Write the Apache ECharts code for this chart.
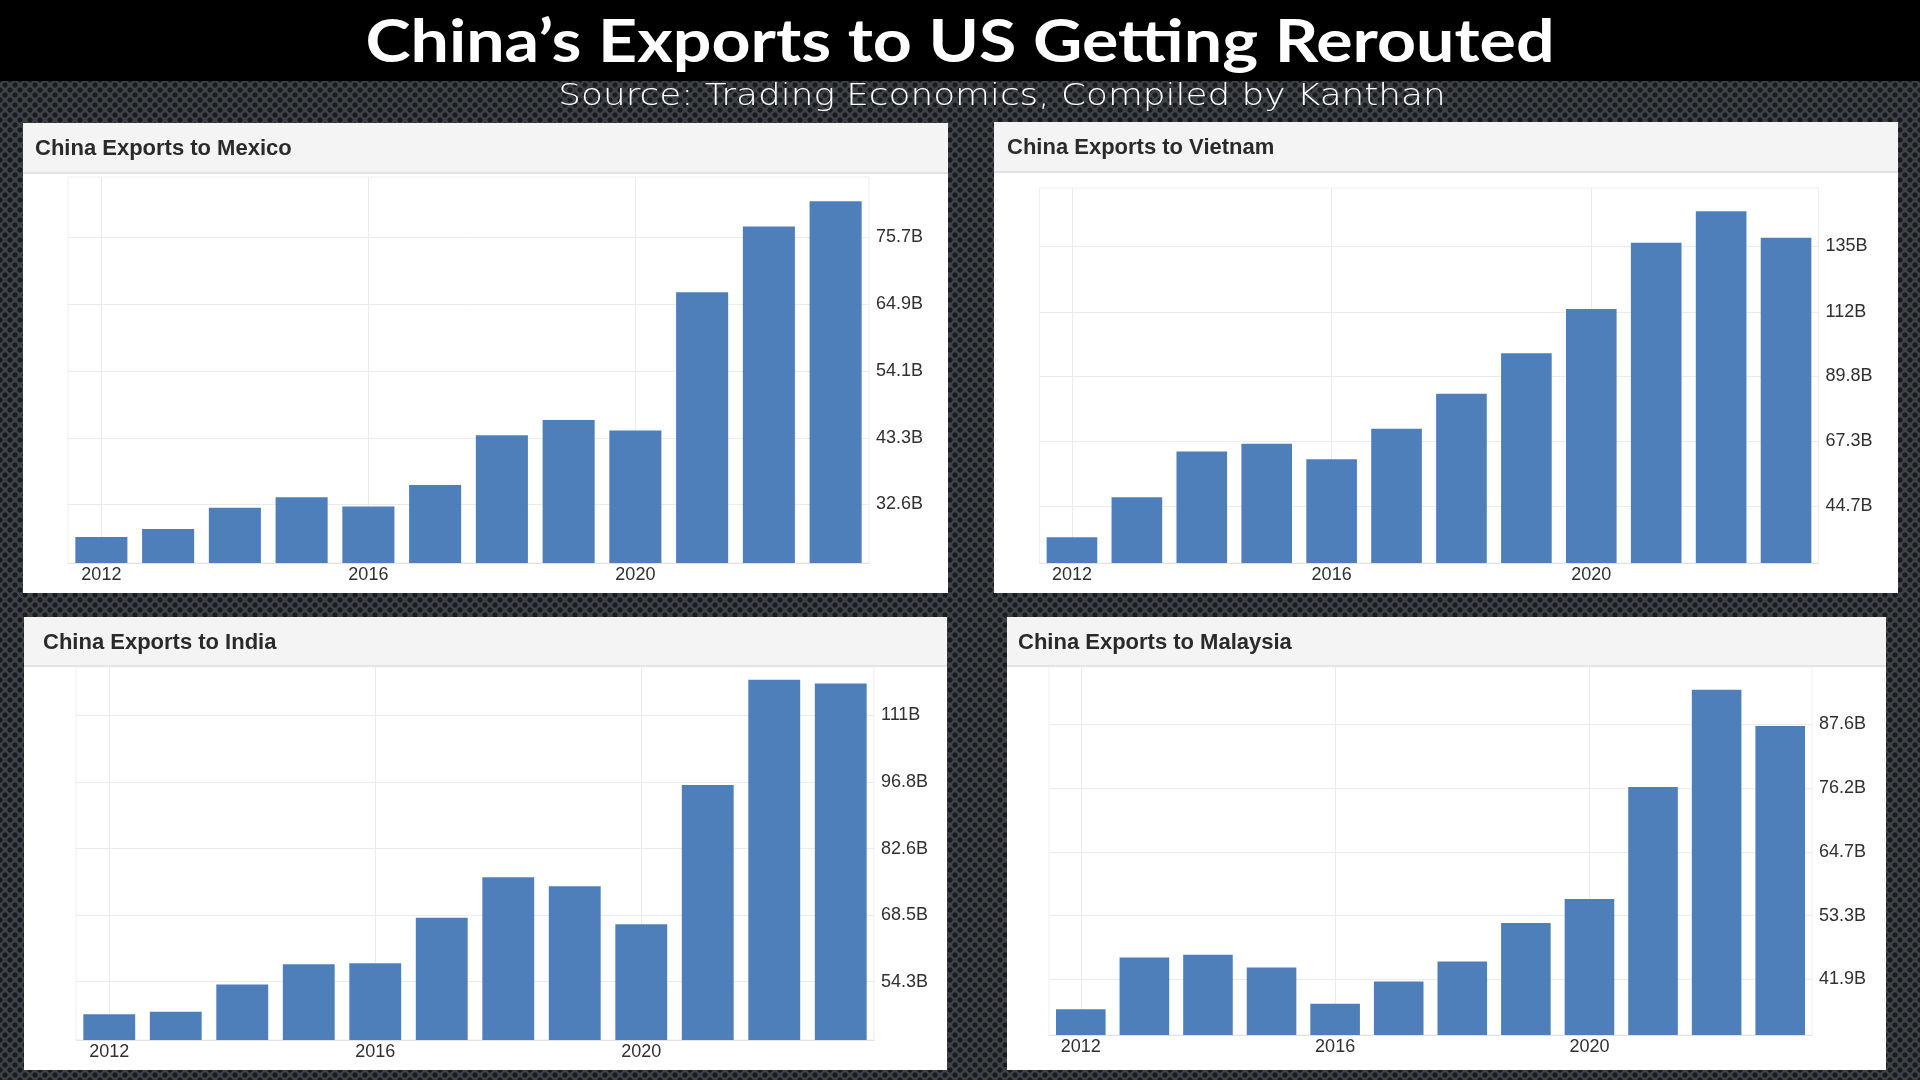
<!DOCTYPE html>
<html><head><meta charset="utf-8">
<script src="https://cdn.jsdelivr.net/npm/echarts@6/dist/echarts.min.js"></script>
<style>
html,body{margin:0;padding:0;}
body{width:1920px;height:1080px;overflow:hidden;background-color:#3e4147;
background-image:radial-gradient(circle at center,#1a1b1e 0,#1a1b1e 2.1px,rgba(0,0,0,0) 3.0px),radial-gradient(circle at center,#1a1b1e 0,#1a1b1e 2.1px,rgba(0,0,0,0) 3.0px);
background-size:10px 10px;background-position:0 0,5px 5px;}
#chart{width:1920px;height:1080px;}
</style></head><body><div id="chart"></div>
<script>
// ---- data ----
const years = ['2012','2013','2014','2015','2016','2017','2018','2019','2020','2021','2022','2023'];
const gridYears = ['2012','2016','2020'];

const mexicoValues   = [27.3, 28.6, 32.0, 33.7, 32.2, 35.7, 43.7, 46.2, 44.5, 66.8, 77.4, 81.5];
const vietnamValues  = [34.0, 47.9, 63.8, 66.5, 61.1, 71.7, 83.8, 97.9, 113.2, 136.2, 147.1, 137.9];
const indiaValues    = [47.4, 47.9, 53.7, 58.0, 58.2, 67.9, 76.5, 74.6, 66.5, 96.1, 118.5, 117.7];
const malaysiaValues = [36.5, 45.8, 46.3, 44.0, 37.5, 41.5, 45.1, 52.0, 56.3, 76.4, 93.8, 87.3];

const mexicoTicks   = [32.6, 43.3, 54.1, 64.9, 75.7];
const vietnamTicks  = [44.7, 67.3, 89.8, 112, 135];
const indiaTicks    = [54.3, 68.5, 82.6, 96.8, 111];
const malaysiaTicks = [41.9, 53.3, 64.7, 76.2, 87.6];

const mexicoRange   = [23.1, 85.4];
const vietnamRange  = [25.1, 155.2];
const indiaRange    = [41.9, 121.2];
const malaysiaRange = [31.9, 97.9];

const mainTitle = 'China\u2019s Exports to US Getting Rerouted';
const subTitle = 'Source: Trading Economics, Compiled by Kanthan';

// ---- layout ----
const panels = [
  {title:'China Exports to Mexico',   values:mexicoValues,   ticks:mexicoTicks,   range:mexicoRange,
   box:[23,123,925,470], head:50, tx:35, ty:149, grid:{left:68, top:177, width:801, height:386}},
  {title:'China Exports to Vietnam',  values:vietnamValues,  ticks:vietnamTicks,  range:vietnamRange,
   box:[994,122,904,471], head:50, tx:1007, ty:148, grid:{left:1039.5, top:188, width:779, height:375}},
  {title:'China Exports to India',    values:indiaValues,    ticks:indiaTicks,    range:indiaRange,
   box:[24,617,923,453], head:49, tx:43, ty:642.5, grid:{left:76, top:667, width:798, height:373}},
  {title:'China Exports to Malaysia', values:malaysiaValues, ticks:malaysiaTicks, range:malaysiaRange,
   box:[1007,617,879,453], head:49, tx:1018, ty:642.5, grid:{left:1049, top:667, width:763, height:368}}
];

const FONT = '"Liberation Sans", Arial, sans-serif';
const BAR = '#4e7fbb';

const elements = [
  {type:'rect', z:-10, silent:true, shape:{x:0,y:0,width:1920,height:81}, style:{fill:'#000000'}},
  {type:'text', z:10, silent:true, x:960, y:43, scaleX:1.135,
   style:{text:mainTitle, font:'bold 60px Lato, sans-serif', fill:'#ffffff', align:'center', verticalAlign:'middle', textAlign:'center', textVerticalAlign:'middle'}},
  {type:'text', z:10, silent:true, x:1002, y:97, scaleX:1.155,
   style:{text:subTitle, font:'200 31px "DejaVu Sans", sans-serif', fill:'#ffffff', align:'center', verticalAlign:'middle', textAlign:'center', textVerticalAlign:'middle'}}
];
panels.forEach(p => {
  const [x,y,w,h] = p.box;
  elements.push({type:'rect', z:-10, silent:true, shape:{x:x,y:y,width:w,height:h}, style:{fill:'#ffffff'}});
  elements.push({type:'rect', z:-9, silent:true, shape:{x:x,y:y,width:w,height:p.head}, style:{fill:'#f4f4f4'}});
  elements.push({type:'rect', z:-9, silent:true, shape:{x:x,y:y+p.head-1,width:w,height:2}, style:{fill:'#e2e2e2'}});
  elements.push({type:'text', z:10, silent:true, x:p.tx, y:p.ty,
    style:{text:p.title, font:'bold 22px ' + FONT, fill:'#2a2a2a', align:'left', verticalAlign:'middle', textAlign:'left', textVerticalAlign:'middle'}});
});

const option = {
  animation: false,
  backgroundColor: 'transparent',
  graphic: {elements: elements},
  grid: panels.map(p => ({left:p.grid.left, top:p.grid.top, width:p.grid.width, height:p.grid.height,
    show:true, borderColor:'#eeeeee', borderWidth:1, backgroundColor:'transparent'})),
  xAxis: panels.map((p,i) => ({type:'category', gridIndex:i, data:years, boundaryGap:true,
    axisLine:{show:true, lineStyle:{color:'#e2e2e2', width:1}}, axisTick:{show:false},
    axisLabel:{interval:3, margin:3, fontSize:18, color:'#303030', fontFamily:FONT},
    splitLine:{show:false}})),
  yAxis: panels.map((p,i) => ({type:'value', gridIndex:i, position:'right', min:p.range[0], max:p.range[1],
    axisLine:{show:false}, axisTick:{show:false, customValues:p.ticks}, splitLine:{show:false},
    axisLabel:{customValues:p.ticks, formatter:v => v + 'B', margin:7, fontSize:18, color:'#303030', fontFamily:FONT,
      padding:[0,0,6,0]}})),
  series: panels.map((p,i) => ({type:'bar', name:p.title, xAxisIndex:i, yAxisIndex:i, data:p.values,
    barCategoryGap:'22%', itemStyle:{color:BAR}, z:2,
    markLine:{silent:true, symbol:'none', z:1, animation:false, label:{show:false},
      lineStyle:{color:'#ebebeb', width:1, type:'solid'}, emphasis:{disabled:true},
      data:[...p.ticks.map(v => ({yAxis:v})), ...gridYears.map(y => ({xAxis:y}))]}}))
};

const chart = echarts.init(document.getElementById('chart'), null, {renderer:'canvas'});
chart.setOption(option);
</script>
</body></html>
